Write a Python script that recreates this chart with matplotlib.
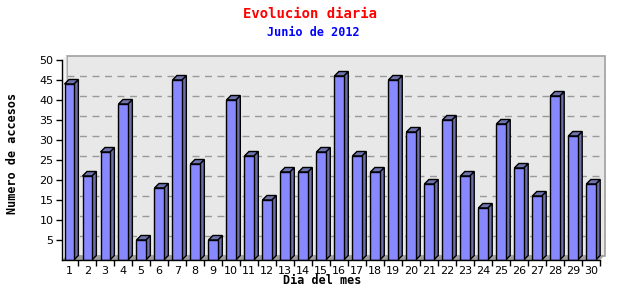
import matplotlib
matplotlib.use("Agg")
import matplotlib.pyplot as plt
from matplotlib.patches import Polygon, Rectangle
from matplotlib.transforms import ScaledTranslation

# datos: accesos por dia, junio 2012
dias = list(range(1, 31))
accesos = [44, 21, 27, 39, 5, 18, 45, 24, 5, 40,
           26, 15, 22, 22, 27, 46, 26, 22, 45, 32,
           19, 35, 21, 13, 34, 23, 16, 41, 31, 19]
y_ticks = [5, 10, 15, 20, 25, 30, 35, 40, 45, 50]

titulo = "Evolucion diaria"
subtitulo = "Junio de 2012"
x_label = "Dia del mes"
y_label = "Numero de accesos"

front = "#8888ff"
side = "#6b6fa6"
top = "#6f73ae"

fig = plt.figure(figsize=(6.4, 3.0), dpi=100)
fig.patch.set_facecolor("white")
W, H = 640, 300
ax = fig.add_axes([62 / W, 40 / H, 538 / W, 200 / H])
ax.set_facecolor("none")
xmin, xmax = 0.6, 30.5
ymin, ymax = 0, 50
ax.set_xlim(xmin, xmax)
ax.set_ylim(ymin, ymax)

# profundidad 3d en pixeles -> unidades de datos
dpx = 4.5
dx = dpx * (xmax - xmin) / 538
dy = dpx * (ymax - ymin) / 200

# pared del fondo
off = ax.transAxes + ScaledTranslation(dpx / 100, dpx / 100, fig.dpi_scale_trans)
ax.add_patch(Rectangle((0, 0), 1, 1, transform=off, facecolor="#e8e8e8",
                       edgecolor="#a0a0a0", lw=1.2, zorder=0, clip_on=False))
# pared izquierda
ax.add_patch(Polygon([(xmin, 0), (xmin + dx, dy), (xmin + dx, ymax + dy), (xmin, ymax)],
                     facecolor="#f2f2f2", edgecolor="none", zorder=0.5, clip_on=False))
# suelo
ax.add_patch(Polygon([(xmin, 0), (xmin + dx, dy), (xmax + dx, dy), (xmax, 0)],
                     facecolor="#a0a0a0", edgecolor="none", zorder=0.6, clip_on=False))

# rejilla
goff = ax.transData + ScaledTranslation(dpx / 100, dpx / 100, fig.dpi_scale_trans)
for t in y_ticks[:-1]:
    ax.plot([xmin, xmax], [t, t], transform=goff, color="#999999", lw=1,
            dashes=(5, 4), zorder=0.7, clip_on=False)

# barras
w = 0.52
ax.bar(dias, accesos, width=w, color=front, edgecolor="black", lw=1, zorder=3)
for d, v in zip(dias, accesos):
    l, r = d - w / 2, d + w / 2
    ax.add_patch(Polygon([(r, 0), (r + dx, dy), (r + dx, v + dy), (r, v)],
                         facecolor=side, edgecolor="black", lw=1, zorder=2.9,
                         clip_on=False, joinstyle="miter"))
    ax.add_patch(Polygon([(l, v), (l + dx, v + dy), (r + dx, v + dy), (r, v)],
                         facecolor=top, edgecolor="black", lw=1, zorder=2.9,
                         clip_on=False, joinstyle="miter"))

# ejes
for s in ["top", "right"]:
    ax.spines[s].set_visible(False)
ax.spines["left"].set_linewidth(1)
ax.spines["bottom"].set_linewidth(1)
ax.spines["left"].set_zorder(4)
ax.spines["bottom"].set_zorder(4)

ax.set_yticks(y_ticks)
ax.set_yticklabels([str(t) for t in y_ticks], fontsize=8, family="DejaVu Sans")
ax.tick_params(axis="y", direction="out", length=4, width=1, pad=2)

ax.set_xticks(dias)
ax.set_xticklabels([str(d) for d in dias], fontsize=8, family="DejaVu Sans")
ax.set_xticks([d + 0.5 for d in dias], minor=True)
ax.tick_params(axis="x", which="major", length=0, pad=4)
ax.tick_params(axis="x", which="minor", direction="out", length=4, width=1)

# textos
fig.text(310 / W, 1 - 14 / H, titulo, color="red", fontsize=10,
         family="DejaVu Sans Mono", weight="bold", ha="center", va="center")
fig.text(313 / W, 1 - 32 / H, subtitulo, color="blue", fontsize=8.5,
         family="DejaVu Sans Mono", weight="bold", ha="center", va="center")
fig.text(322 / W, 1 - 281 / H, x_label, color="black", fontsize=8.5,
         family="DejaVu Sans Mono", weight="bold", ha="center", va="center")
fig.text(13 / W, 1 - 153 / H, y_label, color="black", fontsize=8.5,
         family="DejaVu Sans Mono", weight="bold", ha="center", va="center",
         rotation=90)

fig.savefig("out.png", dpi=100)
